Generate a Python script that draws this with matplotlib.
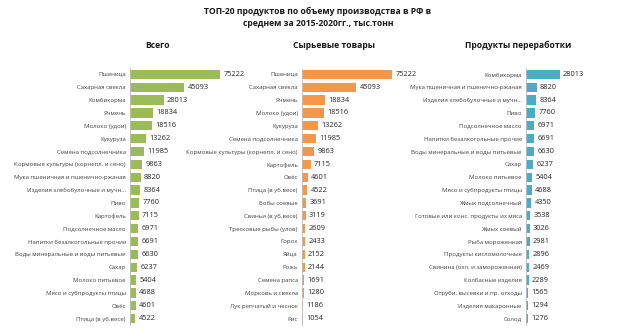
import matplotlib.pyplot as plt

plt.rcParams['font.family'] = ['Open Sans', 'DejaVu Sans']

total_names = ["Пшеница", "Сахарная свекла", "Комбикорма", "Ячмень", "Молоко (удои)",
               "Кукуруза", "Семена подсолнечника", "Кормовые культуры (корнепл. и сено)",
               "Мука пшеничная и пшенично-ржаная", "Изделия хлебобулочные и мучн...",
               "Пиво", "Картофель", "Подсолнечное масло", "Напитки безалкогольные прочие",
               "Воды минеральные и воды питьевые", "Сахар", "Молоко питьевое",
               "Мясо и субпродукты птицы", "Овёс", "Птица (в уб.весе)"]
total_vals = [75222, 45093, 28013, 18834, 18516, 13262, 11985, 9863, 8820, 8364,
              7760, 7115, 6971, 6691, 6630, 6237, 5404, 4688, 4601, 4522]

raw_names = ["Пшеница", "Сахарная свекла", "Ячмень", "Молоко (удои)", "Кукуруза",
             "Семена подсолнечника", "Кормовые культуры (корнепл. и сено)", "Картофель",
             "Овёс", "Птица (в уб.весе)", "Бобы соевые", "Свиньи (в уб.весе)",
             "Тресковые рыбы (улов)", "Горох", "Яйца", "Рожь", "Семена рапса",
             "Морковь и свекла", "Лук репчатый и чеснок", "Рис"]
raw_vals = [75222, 45093, 18834, 18516, 13262, 11985, 9863, 7115, 4601, 4522,
            3691, 3119, 2609, 2433, 2152, 2144, 1691, 1280, 1186, 1054]

proc_names = ["Комбикорма", "Мука пшеничная и пшенично-ржаная",
              "Изделия хлебобулочные и мучн...", "Пиво", "Подсолнечное масло",
              "Напитки безалкогольные прочие", "Воды минеральные и воды питьевые",
              "Сахар", "Молоко питьевое", "Мясо и субпродукты птицы", "Жмых подсолнечный",
              "Готовые или конс. продукты из мяса", "Жмых соевый", "Рыба мороженная",
              "Продукты кисломолочные", "Свинина (охл. и замороженная)",
              "Колбасные изделия", "Отруби, высевки и пр. отходы", "Изделия макаронные",
              "Солод"]
proc_vals = [28013, 8820, 8364, 7760, 6971, 6691, 6630, 6237, 5404, 4688,
             4350, 3538, 3026, 2981, 2896, 2469, 2289, 1565, 1294, 1276]

panels = [
    ("Всего", total_names, total_vals, "#9bbb59", 130, 158),
    ("Сырьевые товары", raw_names, raw_vals, "#f79646", 302, 334),
    ("Продукты переработки", proc_names, proc_vals, "#4bacc6", 526, 518),
]

W, H = 640, 332
fig = plt.figure(figsize=(6.4, 3.32), dpi=100)

fig.text(318 / W, 1 - 11 / H, "ТОП-20 продуктов по объему производства в РФ в",
         ha='center', va='center', fontsize=6.2, fontweight='bold', color='#1a1a1a')
fig.text(318 / W, 1 - 24 / H, "среднем за 2015-2020гг., тыс.тонн",
         ha='center', va='center', fontsize=6.2, fontweight='bold', color='#1a1a1a')

for title, names, vals, color, left, sx in panels:
    fig.text(sx / W, 1 - 45 / H, title, ha='center', va='center', fontsize=6.2,
             fontweight='bold', color='#1a1a1a')
    top, bottom = 68, 325
    ax = fig.add_axes([left / W, 1 - bottom / H, 108 / W, (bottom - top) / H])
    y = list(range(len(vals)))
    ax.barh(y, vals, height=0.72, color=color)
    ax.set_ylim(len(vals) - 0.5, -0.5)
    ax.set_xlim(0, 90000)
    ax.set_yticks(y)
    ax.set_yticklabels(names, fontsize=4.3, color='#404040')
    ax.tick_params(axis='y', length=0, pad=3)
    ax.set_xticks([])
    for s in ['top', 'right', 'bottom']:
        ax.spines[s].set_visible(False)
    ax.spines['left'].set_color('#bfbfbf')
    ax.spines['left'].set_linewidth(0.6)
    for yi, v in zip(y, vals):
        ax.text(v + 2800, yi, str(v), va='center', ha='left', fontsize=5.3, color='#262626')

fig.savefig("out.png", dpi=100)
